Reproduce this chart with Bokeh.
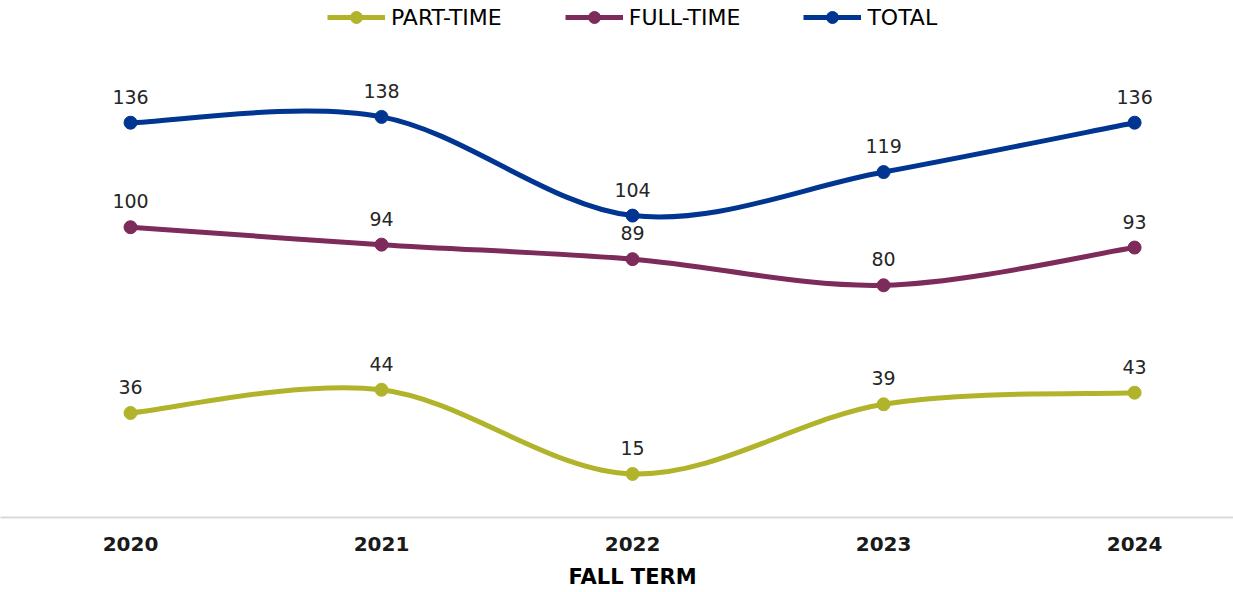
from bokeh.plotting import figure
from bokeh.models import (ColumnDataSource, Range1d, LinearAxis, FixedTicker,
                          Legend, LegendItem)
from bokeh.embed import file_html
from bokeh.resources import INLINE

years = [2020, 2021, 2022, 2023, 2024]
tick_labels = ["2020", "2021", "2022", "2023", "2024"]
part_time = [36, 44, 15, 39, 43]
full_time = [100, 94, 89, 80, 93]
total = [136, 138, 104, 119, 136]
series_names = ["PART-TIME", "FULL-TIME", "TOTAL"]
colors = ["#B1B42B", "#7C2B5A", "#003591"]
x_title = "FALL TERM"

p = figure(frame_width=1233, frame_height=517, output_backend="svg",
           toolbar_location=None,
           x_range=Range1d(2019.482, 2024.394), y_range=Range1d(0, 178.1),
           y_axis_location=None, min_border_left=0, min_border_right=0,
           min_border_top=0, min_border_bottom=0)
p.outline_line_color = None
p.xgrid.visible = False
p.ygrid.visible = False
p.background_fill_color = "white"

ax = p.xaxis[0]
ax.ticker = FixedTicker(ticks=years)
ax.major_label_overrides = {y: t for y, t in zip(years, tick_labels)}
ax.axis_line_color = "#d9d9d9"
ax.axis_line_width = 2
ax.major_tick_line_color = None
ax.minor_tick_line_color = None
ax.major_label_standoff = 13
ax.major_label_text_font = "DejaVu Sans"
ax.major_label_text_font_style = "bold"
ax.major_label_text_font_size = "20px"
ax.major_label_text_color = "#1a1a1a"

ax2 = LinearAxis(ticker=FixedTicker(ticks=[years[2]]),
                 major_label_overrides={years[2]: x_title})
ax2.axis_line_color = None
ax2.major_tick_line_color = None
ax2.minor_tick_line_color = None
ax2.major_label_standoff = 5
ax2.major_label_text_font = "DejaVu Sans"
ax2.major_label_text_font_style = "bold"
ax2.major_label_text_font_size = "21px"
ax2.major_label_text_color = "#000000"
p.add_layout(ax2, "below")


def smooth_segments(xs, ys):
    n = len(xs)
    x0, y0, x1, y1, cx0, cy0, cx1, cy1 = ([] for _ in range(8))
    for i in range(n - 1):
        im1 = max(i - 1, 0)
        ip2 = min(i + 2, n - 1)
        x0.append(xs[i]); y0.append(ys[i])
        x1.append(xs[i + 1]); y1.append(ys[i + 1])
        cx0.append(xs[i] + (xs[i + 1] - xs[im1]) / 6.0)
        cy0.append(ys[i] + (ys[i + 1] - ys[im1]) / 6.0)
        cx1.append(xs[i + 1] - (xs[ip2] - xs[i]) / 6.0)
        cy1.append(ys[i + 1] - (ys[ip2] - ys[i]) / 6.0)
    return dict(x0=x0, y0=y0, x1=x1, y1=y1, cx0=cx0, cy0=cy0, cx1=cx1, cy1=cy1)


items = []
for name, vals, col in zip(series_names, [part_time, full_time, total], colors):
    seg = ColumnDataSource(smooth_segments(years, vals))
    br = p.bezier(x0="x0", y0="y0", x1="x1", y1="y1", cx0="cx0", cy0="cy0",
                  cx1="cx1", cy1="cy1", source=seg, line_color=col, line_width=5)
    src = ColumnDataSource(dict(x=years, y=vals, t=[str(v) for v in vals]))
    sr = p.scatter(x="x", y="y", source=src, size=13, fill_color=col,
                   line_color=col)
    p.text(x="x", y="y", text="t", source=src, text_align="center",
           text_baseline="alphabetic", y_offset=-26, text_font_size="19px",
           text_color="#262626", text_font={"value": "DejaVu Sans"})
    items.append(LegendItem(label=name, renderers=[br, sr]))

legend = Legend(items=items, orientation="horizontal", location=(327, 485),
                glyph_width=58, glyph_height=30, label_standoff=6, spacing=63,
                padding=0, margin=0, border_line_color=None,
                background_fill_alpha=0, label_text_font="DejaVu Sans",
                label_text_font_size="22px", label_text_color="#000000")
p.add_layout(legend, "center")

open("out.html", "w").write(file_html(p, INLINE))
